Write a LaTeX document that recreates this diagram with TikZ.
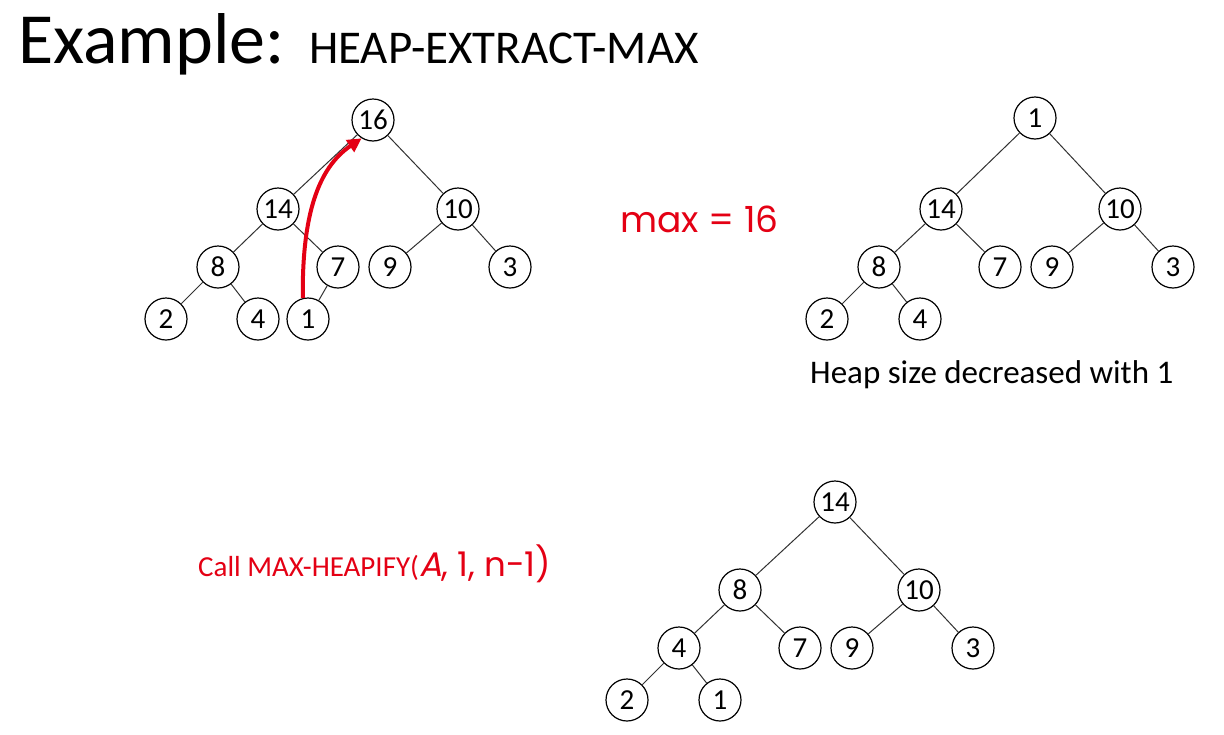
\documentclass[tikz,border=0pt]{standalone}
\usepackage{fontspec}
\setmainfont{Carlito}
\newfontfamily\comicfont{Poppins}
\newfontfamily\comicit{Poppins}[FakeSlant=0.2]
\usetikzlibrary{arrows.meta}
\definecolor{hred}{RGB}{228,0,20}
\definecolor{edgegray}{RGB}{50,50,50}
\tikzset{
  hnode/.style={circle,draw=black,line width=1.2pt,minimum size=42pt,inner sep=0pt,fill=white,font=\fontsize{29}{29}\selectfont},
  edge/.style={draw=edgegray,line width=1pt},
  txt/.style={inner sep=0pt,anchor=base west},
  redarrow/.style={draw=hred,line width=4pt,-{Triangle[length=14pt,width=14pt]}}
}
\begin{document}
\begin{tikzpicture}[x=1pt,y=-1pt]
\useasboundingbox[fill=white] (0,0) rectangle (1224,734);
% title
\node[txt,font=\fontsize{72}{72}\selectfont] (title) at (18,63) {Example:};
\node[txt,font=\fontsize{47}{47}\selectfont] (sub) at (309,63) {HEAP-EXTRACT-MAX};
% left tree
\node[hnode] (a16) at (373,120) {16};
\node[hnode] (a14) at (278,209) {14};
\node[hnode] (a10) at (458,209) {10};
\node[hnode] (a8) at (218,267) {8};
\node[hnode] (a7) at (338,267) {7};
\node[hnode] (a9) at (390,267) {9};
\node[hnode] (a3) at (510,267) {3};
\node[hnode] (a2) at (166,319) {2};
\node[hnode] (a4) at (258,319) {4};
\node[hnode] (a1) at (308,319) {1};
\draw[edge] (a16)--(a14); \draw[edge] (a16)--(a10);
\draw[edge] (a14)--(a8); \draw[edge] (a14)--(a7);
\draw[edge] (a10)--(a9); \draw[edge] (a10)--(a3);
\draw[edge] (a8)--(a2); \draw[edge] (a8)--(a4);
\draw[edge] (a7)--(a1);
\draw[redarrow] (a1.104) .. controls (302,215) and (318,168) .. (a16.238);
% max text
\node[txt,text=hred,font=\comicfont\fontsize{36}{36}\selectfont] (max) at (620,232) {max = 16};
% right tree
\node[hnode] (b1) at (1035,118) {1};
\node[hnode] (b14) at (941,209) {14};
\node[hnode] (b10) at (1120,209) {10};
\node[hnode] (b8) at (879,267) {8};
\node[hnode] (b7) at (1000,267) {7};
\node[hnode] (b9) at (1052,267) {9};
\node[hnode] (b3) at (1173,267) {3};
\node[hnode] (b2) at (827,319) {2};
\node[hnode] (b4) at (920,319) {4};
\draw[edge] (b1)--(b14); \draw[edge] (b1)--(b10);
\draw[edge] (b14)--(b8); \draw[edge] (b14)--(b7);
\draw[edge] (b10)--(b9); \draw[edge] (b10)--(b3);
\draw[edge] (b8)--(b2); \draw[edge] (b8)--(b4);
\node[txt,font=\fontsize{33}{33}\selectfont] (hs) at (810,383) {Heap size decreased with 1};
% call text
\node[txt,text=hred,font=\fontsize{29}{29}\selectfont] (call) at (198,576) {Call MAX-HEAPIFY({\comicit\fontsize{34}{34}\selectfont A}{\comicfont\fontsize{34}{34}\selectfont, 1, n-1)}};
% bottom tree
\node[hnode] (c14) at (835,502) {14};
\node[hnode] (c8) at (740,590) {8};
\node[hnode] (c10) at (919,590) {10};
\node[hnode] (c4) at (679,648) {4};
\node[hnode] (c7) at (800,648) {7};
\node[hnode] (c9) at (852,648) {9};
\node[hnode] (c3) at (973,648) {3};
\node[hnode] (c2) at (627,700) {2};
\node[hnode] (c1) at (720,700) {1};
\draw[edge] (c14)--(c8); \draw[edge] (c14)--(c10);
\draw[edge] (c8)--(c4); \draw[edge] (c8)--(c7);
\draw[edge] (c10)--(c9); \draw[edge] (c10)--(c3);
\draw[edge] (c4)--(c2); \draw[edge] (c4)--(c1);
\end{tikzpicture}
\end{document}
